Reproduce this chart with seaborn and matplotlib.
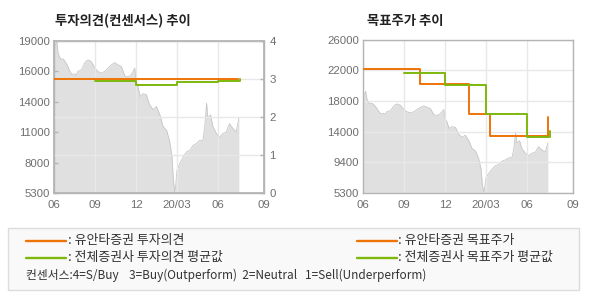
import numpy as np
import pandas as pd
import matplotlib
matplotlib.use("Agg")
import matplotlib.pyplot as plt
import seaborn as sns
from matplotlib.lines import Line2D
from matplotlib.patches import Rectangle

# ---------------- data ----------------
price_dates = [
    "2019-06-01", "2019-06-04", "2019-06-07", "2019-06-10", "2019-06-13", "2019-06-17",
    "2019-06-21", "2019-06-25", "2019-06-28", "2019-07-02", "2019-07-06", "2019-07-09",
    "2019-07-12", "2019-07-17", "2019-07-20", "2019-07-24", "2019-08-01", "2019-08-05",
    "2019-08-08", "2019-08-12", "2019-08-16", "2019-08-23", "2019-08-31", "2019-09-07",
    "2019-09-14", "2019-09-22", "2019-09-29", "2019-10-07", "2019-10-14", "2019-10-22",
    "2019-10-29", "2019-11-06", "2019-11-13", "2019-11-20", "2019-11-28", "2019-12-01",
    "2019-12-05", "2019-12-10", "2019-12-16", "2019-12-24", "2019-12-31", "2020-01-08",
    "2020-01-15", "2020-01-23", "2020-01-30", "2020-02-07", "2020-02-14", "2020-02-19",
    "2020-02-22", "2020-02-25", "2020-02-27", "2020-03-01", "2020-03-07", "2020-03-15",
    "2020-03-22", "2020-03-30", "2020-04-06", "2020-04-13", "2020-04-21", "2020-04-28",
    "2020-05-02", "2020-05-06", "2020-05-09", "2020-05-15", "2020-05-20", "2020-05-28",
    "2020-06-04", "2020-06-11", "2020-06-19", "2020-06-26", "2020-07-03", "2020-07-11",
    "2020-07-17",
]
price_values = [
    18800, 18600, 19000, 17900, 17600, 17300,
    17400, 17200, 17000, 16700, 16300, 16100,
    15950, 16050, 15900, 16260, 16400, 16700,
    17000, 17200, 17300, 17150, 16550, 16250,
    16100, 16250, 16550, 16850, 17050, 16850,
    16700, 15850, 15750, 15950, 16550, 15350,
    14900, 14000, 14250, 14150, 13250, 12800,
    13100, 12350, 11300, 10950, 9900, 8550,
    6450, 5400, 5850, 7350, 7950, 8550,
    9000, 9150, 9600, 9750, 10050, 10050,
    11300, 13400, 12050, 12350, 11300, 10650,
    10350, 10650, 10800, 11550, 11150, 10800,
    12050,
]

opinion_dates = ["2019-06-01", "2020-07-16"]
opinion_values = [3.0, 3.0]
cons_opinion_dates = ["2019-09-01", "2019-12-01", "2020-03-01", "2020-06-01", "2020-07-20"]
cons_opinion_values = [2.96, 2.85, 2.92, 2.96, 3.0]

target_dates = ["2019-06-01", "2019-10-05", "2020-01-24", "2020-03-09", "2020-07-17"]
target_values = [22000, 20000, 16000, 13000, 15500]
cons_target_dates = ["2019-09-01", "2019-12-01", "2020-03-01", "2020-06-01", "2020-07-21"]
cons_target_values = [21500, 19850, 16000, 12800, 13700]

x_tick_dates = ["2019-06-01", "2019-09-01", "2019-12-01", "2020-03-01", "2020-06-01", "2020-09-11"]
x_tick_labels = ["06", "09", "12", "20/03", "06", "09"]

left_price_ticks = [5300, 8040, 10780, 13520, 16260, 19000]
left_price_labels = ["5300", "8000", "11000", "14000", "16000", "19000"]
opinion_ticks = [0, 1, 2, 3, 4]
opinion_labels = ["0", "1", "2", "3", "4"]
right_price_ticks = [5300, 9440, 13580, 17720, 21860, 26000]
right_price_labels = ["5300", "9400", "14000", "18000", "22000", "26000"]

title_left = "투자의견(컨센서스) 추이"
title_right = "목표주가 추이"
legend_items = [
    ": 유안타증권 투자의견",
    ": 전체증권사 투자의견 평균값",
    ": 유안타증권 목표주가",
    ": 전체증권사 목표주가 평균값",
]
consensus_note = "컨센서스:4=S/Buy    3=Buy(Outperform)  2=Neutral   1=Sell(Underperform)"

# ---------------- style ----------------
sns.set_theme(style="white")
plt.rcParams["font.family"] = ["Noto Sans CJK KR", "DejaVu Sans"]

ORANGE = "#EF7306"
GREEN = "#7DB80B"
FILL = "#E0E0E0"
EDGE = "#C6C6C6"
GRID = "#E8E8E8"
SPINE = "#B4B4B4"
TICKC = "#6E6E6E"
NUMFONT = ["Liberation Sans", "DejaVu Sans"]
TICKSIZE = 8.2

pdates = pd.to_datetime(price_dates)
xt = pd.to_datetime(x_tick_dates)
xlim = (xt[0], xt[-1])

fig = plt.figure(figsize=(5.9, 3.0), dpi=100)
W, H = 590, 300


def ax_rect(x0, y0, x1, y1):
    return [x0 / W, 1 - y1 / H, (x1 - x0) / W, (y1 - y0) / H]


def style_axes(ax):
    for s in ax.spines.values():
        s.set_color(SPINE)
        s.set_linewidth(1.0)
        s.set_visible(True)
    ax.set_xlim(*xlim)
    ax.set_xticks(xt)
    ax.set_xticklabels(x_tick_labels, fontfamily=NUMFONT, fontsize=TICKSIZE, color=TICKC)
    ax.tick_params(axis="x", direction="out", length=3, width=1, color=SPINE, pad=2)


def draw_price(ax, bottom):
    ax.fill_between(pdates, price_values, bottom, color=FILL, lw=0, zorder=0.3)
    sns.lineplot(x=pdates, y=price_values, ax=ax, color=EDGE, lw=0.6, zorder=0.4)


# ---------------- left chart ----------------
axL = fig.add_axes(ax_rect(54, 41, 264, 193))
draw_price(axL, 5300)
axL.set_ylim(5300, 19000)
axL.set_yticks(left_price_ticks)
axL.set_yticklabels(left_price_labels, fontfamily=NUMFONT, fontsize=TICKSIZE, color=TICKC)
axL.tick_params(axis="y", direction="in", length=3, width=1, color=SPINE, pad=3)
style_axes(axL)
axL.grid(axis="x", color=GRID, lw=1)
axL.grid(axis="y", visible=False)
axL.set_axisbelow(True)

axL2 = axL.twinx()
axL2.set_ylim(0, 4)
axL2.set_yticks(opinion_ticks)
axL2.set_yticklabels(opinion_labels, fontfamily=NUMFONT, fontsize=TICKSIZE, color=TICKC)
axL2.tick_params(axis="y", direction="in", length=3, width=1, color=SPINE, pad=4)
axL2.grid(axis="y", color=GRID, lw=1)
axL2.grid(axis="x", visible=False)
axL2.set_axisbelow(True)
sns.lineplot(x=pd.to_datetime(opinion_dates), y=opinion_values, ax=axL2,
             color=ORANGE, lw=1.4, drawstyle="steps-post", zorder=3)
sns.lineplot(x=pd.to_datetime(cons_opinion_dates), y=cons_opinion_values, ax=axL2,
             color=GREEN, lw=1.4, drawstyle="steps-post", zorder=3)
for s in axL2.spines.values():
    s.set_color(SPINE)
axL2.set_xlim(*xlim)

fig.text(55 / W, 1 - 20.5 / H, title_left, fontsize=9.6, fontweight="bold",
         color="#222222", va="center", ha="left")

# ---------------- right chart ----------------
axR = fig.add_axes(ax_rect(363, 39.5, 573, 193))
draw_price(axR, 5300)
axR.set_ylim(5300, 26000)
axR.set_yticks(right_price_ticks)
axR.set_yticklabels(right_price_labels, fontfamily=NUMFONT, fontsize=TICKSIZE, color=TICKC)
axR.tick_params(axis="y", direction="in", length=3, width=1, color=SPINE, pad=3)
style_axes(axR)
axR.grid(True, color=GRID, lw=1)
axR.set_axisbelow(True)
sns.lineplot(x=pd.to_datetime(target_dates), y=target_values, ax=axR,
             color=ORANGE, lw=1.4, drawstyle="steps-post", zorder=3)
sns.lineplot(x=pd.to_datetime(cons_target_dates), y=cons_target_values, ax=axR,
             color=GREEN, lw=1.4, drawstyle="steps-post", zorder=3)
axR.set_xlim(*xlim)

for a in (axL, axL2, axR):
    a.set_xlabel("")
    a.set_ylabel("")

fig.text(367 / W, 1 - 20.5 / H, title_right, fontsize=9.6, fontweight="bold",
         color="#222222", va="center", ha="left")

# ---------------- legend box ----------------
box = Rectangle((8 / W, 1 - 290 / H), (579 - 8) / W, (290 - 228) / H,
                transform=fig.transFigure, facecolor="#F9F9F9", edgecolor="#DCDCDC",
                lw=1, zorder=0)
fig.patches.append(box)

legend_pos = [
    (26, 66, 240.5, ORANGE, legend_items[0]),
    (26, 66, 257.8, GREEN, legend_items[1]),
    (357, 397, 240.5, ORANGE, legend_items[2]),
    (357, 397, 257.8, GREEN, legend_items[3]),
]
for x0, x1, y, col, txt in legend_pos:
    fig.lines.append(Line2D([x0 / W, x1 / W], [1 - y / H, 1 - y / H],
                            transform=fig.transFigure, color=col, lw=1.7))
    fig.text((x1 + 1.5) / W, 1 - y / H, txt, fontsize=9.3, color="#333333",
             va="center", ha="left")

fig.text(26 / W, 1 - 275.5 / H, consensus_note, fontsize=8.5, color="#333333",
         va="center", ha="left")

fig.savefig("out.png", dpi=100)
